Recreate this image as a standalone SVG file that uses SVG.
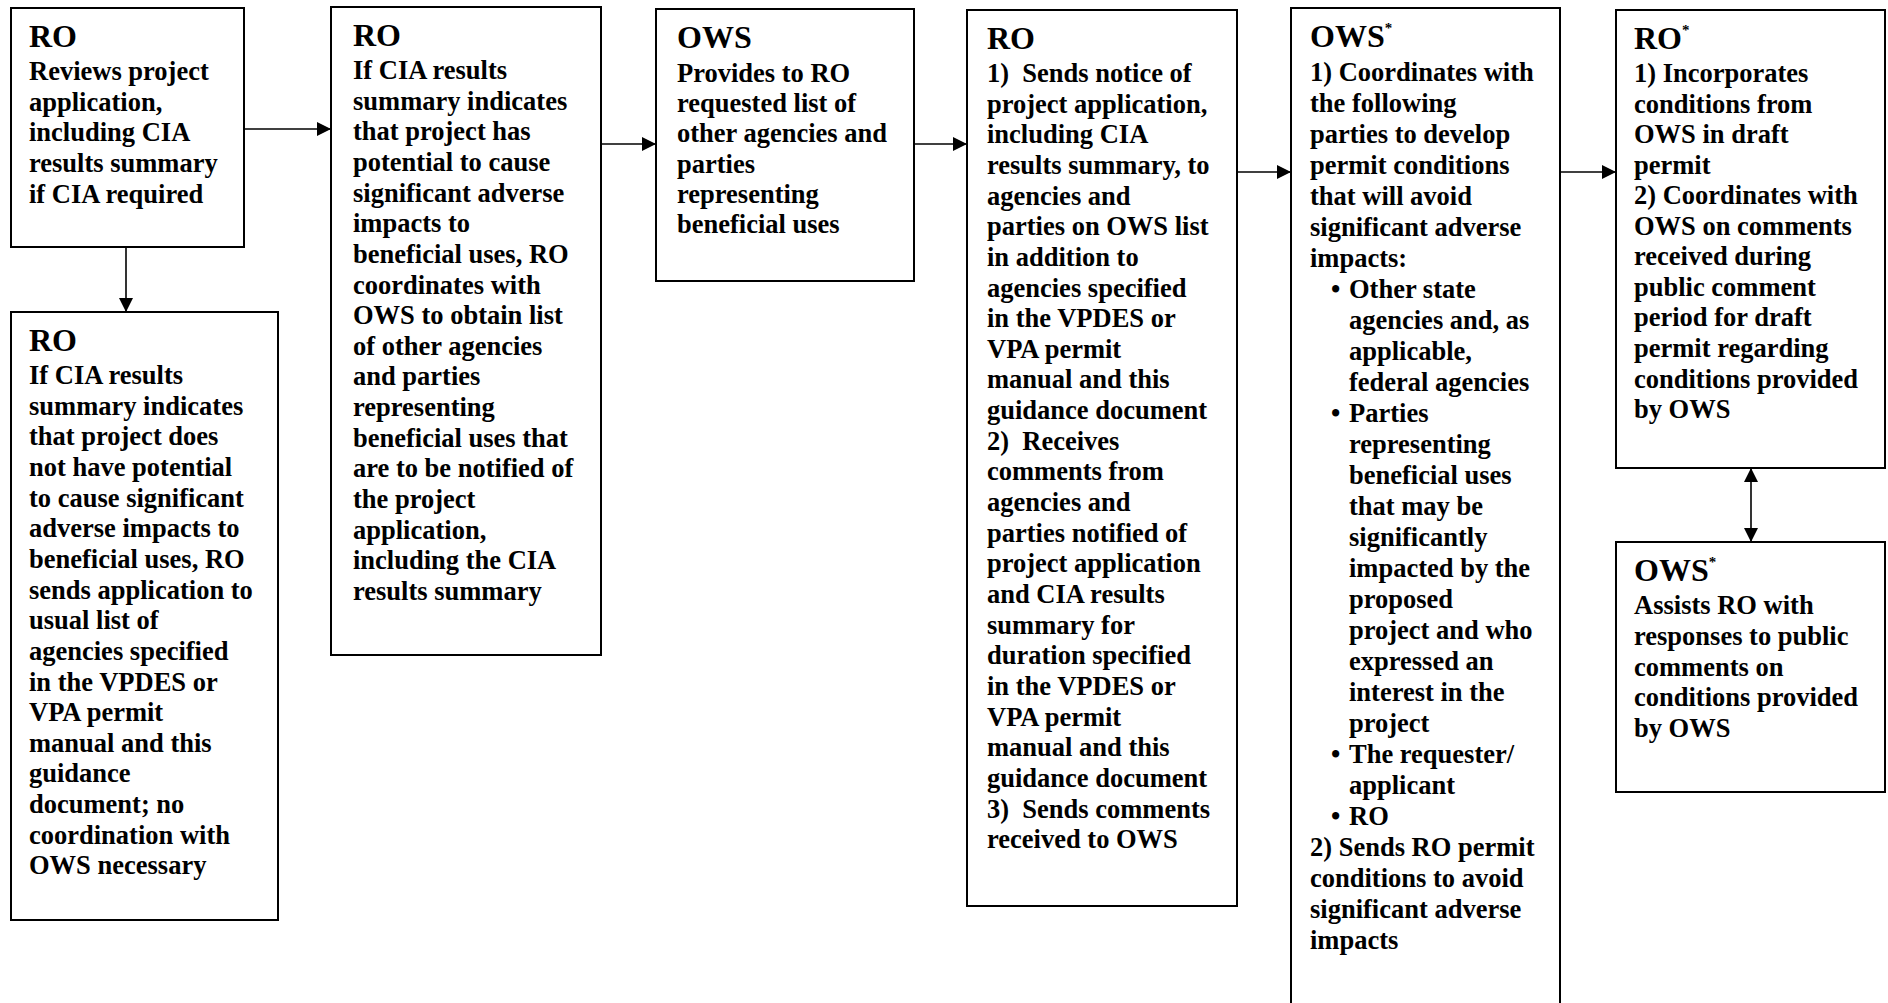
<svg xmlns="http://www.w3.org/2000/svg" width="1888" height="1003" viewBox="0 0 1888 1003">
<style>
.box{fill:#fff;stroke:#000;stroke-width:2}
.t{font-family:"Liberation Serif","Times New Roman",serif;font-weight:bold;font-size:26.5px;fill:#000}
.h{font-size:32px}
.sup{font-size:15px}
.conn line{stroke:#000;stroke-width:1.6;fill:none}
</style>
<defs>
<marker id="ah" markerUnits="userSpaceOnUse" markerWidth="15" markerHeight="15" refX="14" refY="7" orient="auto-start-reverse">
<path d="M0,0 L14,7 L0,14 Z" fill="#000"/>
</marker>
</defs>
<rect width="1888" height="1003" fill="#fff"/>

<g id="connectors" class="conn">
<line x1="244" y1="129" x2="331" y2="129" marker-end="url(#ah)"/>
<line x1="126" y1="247" x2="126" y2="312" marker-end="url(#ah)"/>
<line x1="601" y1="144" x2="656" y2="144" marker-end="url(#ah)"/>
<line x1="914" y1="144" x2="967" y2="144" marker-end="url(#ah)"/>
<line x1="1237" y1="172" x2="1291" y2="172" marker-end="url(#ah)"/>
<line x1="1560" y1="172" x2="1616" y2="172" marker-end="url(#ah)"/>
<line x1="1751" y1="468" x2="1751" y2="542" marker-start="url(#ah)" marker-end="url(#ah)"/>
</g>

<g id="n1">
<rect class="box" x="11" y="8" width="233" height="239"/>
<text class="t h" x="29" y="47">RO</text>
<text class="t" x="29" y="80"><tspan x="29" dy="0">Reviews project</tspan><tspan x="29" dy="30.65">application,</tspan><tspan x="29" dy="30.65">including CIA</tspan><tspan x="29" dy="30.65">results summary</tspan><tspan x="29" dy="30.65">if CIA required</tspan></text>
</g>

<g id="n2">
<rect class="box" x="11" y="312" width="267" height="608"/>
<text class="t h" x="29" y="351">RO</text>
<text class="t" x="29" y="384"><tspan x="29" dy="0">If CIA results</tspan><tspan x="29" dy="30.65">summary indicates</tspan><tspan x="29" dy="30.65">that project does</tspan><tspan x="29" dy="30.65">not have potential</tspan><tspan x="29" dy="30.65">to cause significant</tspan><tspan x="29" dy="30.65">adverse impacts to</tspan><tspan x="29" dy="30.65">beneficial uses, RO</tspan><tspan x="29" dy="30.65">sends application to</tspan><tspan x="29" dy="30.65">usual list of</tspan><tspan x="29" dy="30.65">agencies specified</tspan><tspan x="29" dy="30.65">in the VPDES or</tspan><tspan x="29" dy="30.65">VPA permit</tspan><tspan x="29" dy="30.65">manual and this</tspan><tspan x="29" dy="30.65">guidance</tspan><tspan x="29" dy="30.65">document; no</tspan><tspan x="29" dy="30.65">coordination with</tspan><tspan x="29" dy="30.65">OWS necessary</tspan></text>
</g>

<g id="n3">
<rect class="box" x="331" y="7" width="270" height="648"/>
<text class="t h" x="353" y="46">RO</text>
<text class="t" x="353" y="79"><tspan x="353" dy="0">If CIA results</tspan><tspan x="353" dy="30.65">summary indicates</tspan><tspan x="353" dy="30.65">that project has</tspan><tspan x="353" dy="30.65">potential to cause</tspan><tspan x="353" dy="30.65">significant adverse</tspan><tspan x="353" dy="30.65">impacts to</tspan><tspan x="353" dy="30.65">beneficial uses, RO</tspan><tspan x="353" dy="30.65">coordinates with</tspan><tspan x="353" dy="30.65">OWS to obtain list</tspan><tspan x="353" dy="30.65">of other agencies</tspan><tspan x="353" dy="30.65">and parties</tspan><tspan x="353" dy="30.65">representing</tspan><tspan x="353" dy="30.65">beneficial uses that</tspan><tspan x="353" dy="30.65">are to be notified of</tspan><tspan x="353" dy="30.65">the project</tspan><tspan x="353" dy="30.65">application,</tspan><tspan x="353" dy="30.65">including the CIA</tspan><tspan x="353" dy="30.65">results summary</tspan></text>
</g>

<g id="n4">
<rect class="box" x="656" y="9" width="258" height="272"/>
<text class="t h" x="677" y="48">OWS</text>
<text class="t" x="677" y="82"><tspan x="677" dy="0">Provides to RO</tspan><tspan x="677" dy="30.2">requested list of</tspan><tspan x="677" dy="30.2">other agencies and</tspan><tspan x="677" dy="30.2">parties</tspan><tspan x="677" dy="30.2">representing</tspan><tspan x="677" dy="30.2">beneficial uses</tspan></text>
</g>

<g id="n5">
<rect class="box" x="967" y="10" width="270" height="896"/>
<text class="t h" x="987" y="49">RO</text>
<text class="t" x="987" y="82"><tspan x="987" dy="0">1)&#160; Sends notice of</tspan><tspan x="987" dy="30.65">project application,</tspan><tspan x="987" dy="30.65">including CIA</tspan><tspan x="987" dy="30.65">results summary, to</tspan><tspan x="987" dy="30.65">agencies and</tspan><tspan x="987" dy="30.65">parties on OWS list</tspan><tspan x="987" dy="30.65">in addition to</tspan><tspan x="987" dy="30.65">agencies specified</tspan><tspan x="987" dy="30.65">in the VPDES or</tspan><tspan x="987" dy="30.65">VPA permit</tspan><tspan x="987" dy="30.65">manual and this</tspan><tspan x="987" dy="30.65">guidance document</tspan><tspan x="987" dy="30.65">2)&#160; Receives</tspan><tspan x="987" dy="30.65">comments from</tspan><tspan x="987" dy="30.65">agencies and</tspan><tspan x="987" dy="30.65">parties notified of</tspan><tspan x="987" dy="30.65">project application</tspan><tspan x="987" dy="30.65">and CIA results</tspan><tspan x="987" dy="30.65">summary for</tspan><tspan x="987" dy="30.65">duration specified</tspan><tspan x="987" dy="30.65">in the VPDES or</tspan><tspan x="987" dy="30.65">VPA permit</tspan><tspan x="987" dy="30.65">manual and this</tspan><tspan x="987" dy="30.65">guidance document</tspan><tspan x="987" dy="30.65">3)&#160; Sends comments</tspan><tspan x="987" dy="30.65">received to OWS</tspan></text>
</g>

<g id="n6">
<path class="box" d="M1291,1006 V8 H1560 V1006"/>
<text class="t h" x="1310" y="47">OWS<tspan class="sup" dy="-14">*</tspan></text>
<text class="t" x="1310" y="81"><tspan x="1310" dy="0">1) Coordinates with</tspan><tspan x="1310" dy="31">the following</tspan><tspan x="1310" dy="31">parties to develop</tspan><tspan x="1310" dy="31">permit conditions</tspan><tspan x="1310" dy="31">that will avoid</tspan><tspan x="1310" dy="31">significant adverse</tspan><tspan x="1310" dy="31">impacts:</tspan><tspan x="1349" dy="31">Other state</tspan><tspan x="1349" dy="31">agencies and, as</tspan><tspan x="1349" dy="31">applicable,</tspan><tspan x="1349" dy="31">federal agencies</tspan><tspan x="1349" dy="31">Parties</tspan><tspan x="1349" dy="31">representing</tspan><tspan x="1349" dy="31">beneficial uses</tspan><tspan x="1349" dy="31">that may be</tspan><tspan x="1349" dy="31">significantly</tspan><tspan x="1349" dy="31">impacted by the</tspan><tspan x="1349" dy="31">proposed</tspan><tspan x="1349" dy="31">project and who</tspan><tspan x="1349" dy="31">expressed an</tspan><tspan x="1349" dy="31">interest in the</tspan><tspan x="1349" dy="31">project</tspan><tspan x="1349" dy="31">The requester/</tspan><tspan x="1349" dy="31">applicant</tspan><tspan x="1349" dy="31">RO</tspan><tspan x="1310" dy="31">2) Sends RO permit</tspan><tspan x="1310" dy="31">conditions to avoid</tspan><tspan x="1310" dy="31">significant adverse</tspan><tspan x="1310" dy="31">impacts</tspan></text>
<text class="t" x="1331" y="298">•</text>
<text class="t" x="1331" y="422">•</text>
<text class="t" x="1331" y="763">•</text>
<text class="t" x="1331" y="825">•</text>
</g>

<g id="n7">
<rect class="box" x="1616" y="10" width="269" height="458"/>
<text class="t h" x="1634" y="49">RO<tspan class="sup" dy="-14">*</tspan></text>
<text class="t" x="1634" y="82"><tspan x="1634" dy="0">1) Incorporates</tspan><tspan x="1634" dy="30.55">conditions from</tspan><tspan x="1634" dy="30.55">OWS in draft</tspan><tspan x="1634" dy="30.55">permit</tspan><tspan x="1634" dy="30.55">2) Coordinates with</tspan><tspan x="1634" dy="30.55">OWS on comments</tspan><tspan x="1634" dy="30.55">received during</tspan><tspan x="1634" dy="30.55">public comment</tspan><tspan x="1634" dy="30.55">period for draft</tspan><tspan x="1634" dy="30.55">permit regarding</tspan><tspan x="1634" dy="30.55">conditions provided</tspan><tspan x="1634" dy="30.55">by OWS</tspan></text>
</g>

<g id="n8">
<rect class="box" x="1616" y="542" width="269" height="250"/>
<text class="t h" x="1634" y="581">OWS<tspan class="sup" dy="-14">*</tspan></text>
<text class="t" x="1634" y="614"><tspan x="1634" dy="0">Assists RO with</tspan><tspan x="1634" dy="30.8">responses to public</tspan><tspan x="1634" dy="30.8">comments on</tspan><tspan x="1634" dy="30.8">conditions provided</tspan><tspan x="1634" dy="30.8">by OWS</tspan></text>
</g>
</svg>
